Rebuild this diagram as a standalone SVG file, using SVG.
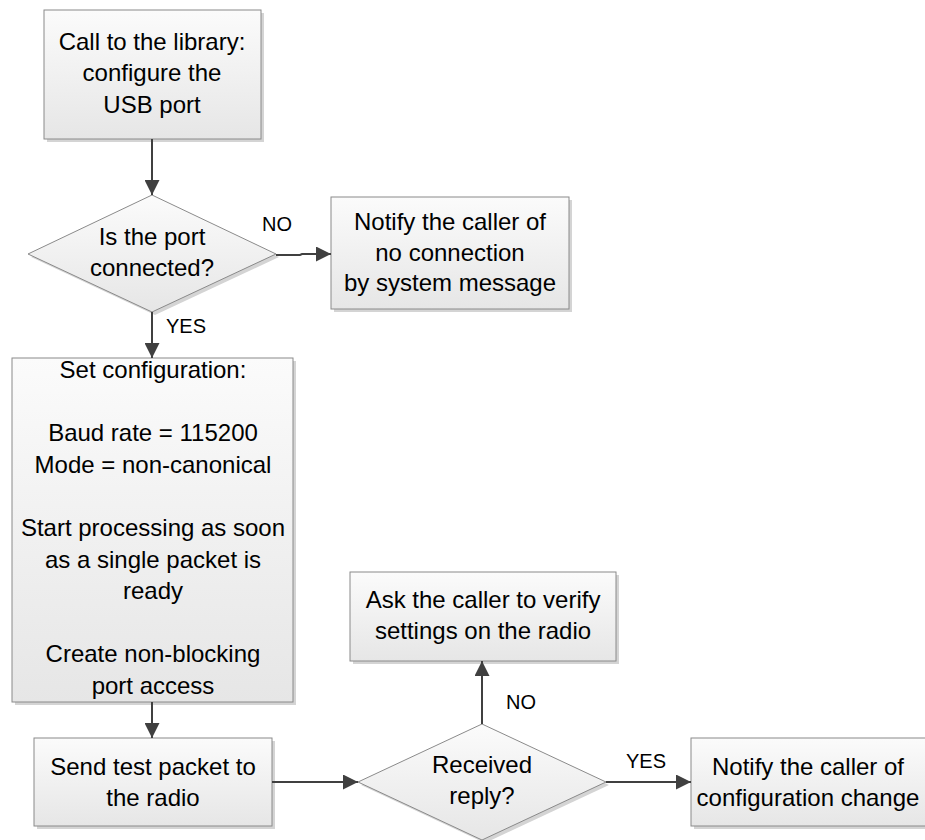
<svg xmlns="http://www.w3.org/2000/svg" width="925" height="840" viewBox="0 0 925 840">
  <defs>
    <linearGradient id="fillGrad" x1="0" y1="0" x2="0" y2="1">
      <stop offset="0" stop-color="#fbfbfb"/>
      <stop offset="1" stop-color="#e6e6e6"/>
    </linearGradient>
    <marker id="arrow" markerUnits="userSpaceOnUse" markerWidth="15" markerHeight="15" refX="15" refY="7.5" orient="auto">
      <path d="M0,0 L15,7.5 L0,15 Z" fill="#404040"/>
    </marker>
  </defs>
  <style>
    .shape { fill: url(#fillGrad); stroke: #8a8a8a; stroke-width: 1; }
    .shadow { fill: #d4d4d4; }
    .label { font-family: "Liberation Sans", Arial, sans-serif; font-size: 24px; fill: #000; text-anchor: middle; }
    .edge-label { font-family: "Liberation Sans", Arial, sans-serif; font-size: 20px; fill: #000; }
    .conn { fill: none; stroke: #404040; stroke-width: 2; marker-end: url(#arrow); }
  </style>

  <rect width="925" height="840" fill="#ffffff"/>

  <!-- Start: configure the USB port -->
  <g id="configure-port">
    <rect class="shadow" x="47" y="13" width="217" height="129"/>
    <rect class="shape" x="44" y="10" width="217" height="129"/>
    <text class="label" x="152" y="50">Call to the library:</text>
    <text class="label" x="152" y="81">configure the</text>
    <text class="label" x="152" y="113">USB port</text>
  </g>

  <!-- Decision: port connected? -->
  <g id="port-connected">
    <polygon class="shadow" points="155,198 279,257 155,315 31,257"/>
    <polygon class="shape" points="152,195 276,254 152,312 28,254"/>
    <text class="label" x="152" y="245">Is the port</text>
    <text class="label" x="152" y="276">connected?</text>
  </g>

  <!-- No connection notification -->
  <g id="no-connection">
    <rect class="shadow" x="334" y="200" width="238" height="112"/>
    <rect class="shape" x="331" y="197" width="238" height="112"/>
    <text class="label" x="450" y="230">Notify the caller of</text>
    <text class="label" x="450" y="261">no connection</text>
    <text class="label" x="450" y="291">by system message</text>
  </g>

  <!-- Port configuration -->
  <g id="set-configuration">
    <rect class="shadow" x="15" y="361" width="281" height="344"/>
    <rect class="shape" x="12" y="358" width="281" height="344"/>
    <text class="label" x="153" y="378">Set configuration:</text>
    <text class="label" x="153" y="441">Baud rate = 115200</text>
    <text class="label" x="153" y="473">Mode = non-canonical</text>
    <text class="label" x="153" y="536">Start processing as soon</text>
    <text class="label" x="153" y="568">as a single packet is</text>
    <text class="label" x="153" y="599">ready</text>
    <text class="label" x="153" y="662">Create non-blocking</text>
    <text class="label" x="153" y="694">port access</text>
  </g>

  <!-- Test packet -->
  <g id="send-test-packet">
    <rect class="shadow" x="37" y="741" width="238" height="88"/>
    <rect class="shape" x="34" y="738" width="238" height="88"/>
    <text class="label" x="153" y="775">Send test packet to</text>
    <text class="label" x="153" y="806">the radio</text>
  </g>

  <!-- Decision: reply received? -->
  <g id="received-reply">
    <polygon class="shadow" points="485,727 609,785 485,843 361,785"/>
    <polygon class="shape" points="482,724 606,782 482,840 358,782"/>
    <text class="label" x="482" y="773">Received</text>
    <text class="label" x="482" y="804">reply?</text>
  </g>

  <!-- Verify radio settings -->
  <g id="verify-settings">
    <rect class="shadow" x="353" y="575" width="266" height="89"/>
    <rect class="shape" x="350" y="572" width="266" height="89"/>
    <text class="label" x="483" y="608">Ask the caller to verify</text>
    <text class="label" x="483" y="639">settings on the radio</text>
  </g>

  <!-- Configuration change notification -->
  <g id="config-changed">
    <rect class="shadow" x="694" y="741" width="240" height="88"/>
    <rect class="shape" x="691" y="738" width="240" height="88"/>
    <text class="label" x="808" y="775">Notify the caller of</text>
    <text class="label" x="808" y="806">configuration change</text>
  </g>

  <!-- Connectors -->
  <g id="connectors">
    <path class="conn" d="M152,139 V195"/>
    <path class="conn" d="M276,255 H300 L302,254 H331"/>
    <path class="conn" d="M152,312 V358"/>
    <path class="conn" d="M152,702 V738"/>
    <path class="conn" d="M272,782 H358"/>
    <path class="conn" d="M482,724 V661"/>
    <path class="conn" d="M606,782 H691"/>
    <text class="edge-label" x="262" y="231">NO</text>
    <text class="edge-label" x="166" y="333">YES</text>
    <text class="edge-label" x="506" y="709">NO</text>
    <text class="edge-label" x="626" y="768">YES</text>
  </g>
</svg>
